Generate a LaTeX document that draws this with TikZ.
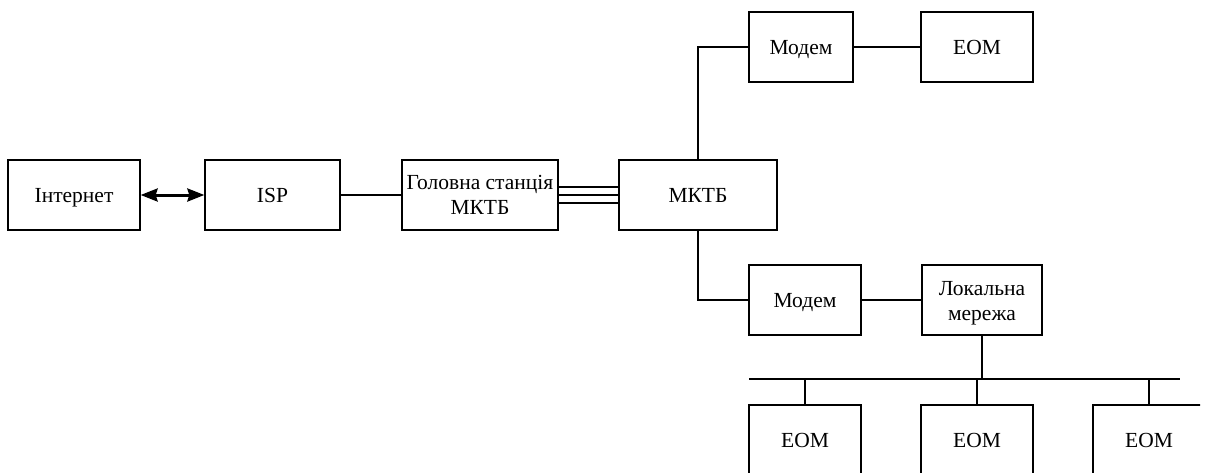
\documentclass[tikz,border=0pt]{standalone}
\usepackage{fontspec}
\setmainfont{Liberation Serif}
\usetikzlibrary{arrows.meta}
\begin{document}
\begin{tikzpicture}[x=1pt,y=-1pt,
  txt/.style={inner sep=0pt,align=center,font=\fontsize{21.5}{25}\selectfont},
  box/.style={txt,draw,line width=1.3pt,minimum height=70pt},
  one/.style={text height=14.2pt,text depth=0pt},
  wire/.style={line width=1.3pt},
  tip/.style={Stealth[length=17pt,width=13pt,inset=0pt]}]
\useasboundingbox (0,0) rectangle (1211,472);
\node[box,one,minimum width=132pt] (inet) at (74,195) {Інтернет};
\node[box,one,minimum width=135pt] (isp) at (272.5,195) {ISP};
\node[box,minimum width=156pt] (head) at (480,195) {Головна станція\\МКТБ};
\node[box,one,minimum width=158pt] (mktb) at (698,195) {МКТБ};
\node[box,one,minimum width=104pt] (modemA) at (801,47) {Модем};
\node[box,one,minimum width=112pt] (eomA) at (977,47) {ЕОМ};
\node[box,one,minimum width=112pt] (modemB) at (805,300) {Модем};
\node[box,minimum width=120pt,label={[txt,yshift=-3pt]center:Локальна\\мережа}] (lan) at (982,300) {};
\coordinate (busL) at (749,379);
\coordinate (busR) at (1180,379);
\begin{scope}
\clip (0,0) rectangle (1200,472);
\node[box,one,minimum width=112pt] (eomB) at (805,440) {ЕОМ};
\node[box,one,minimum width=112pt] (eomC) at (977,440) {ЕОМ};
\node[box,one,minimum width=112pt] (eomD) at (1149,440) {ЕОМ};
\end{scope}
\draw[line width=3pt,{Stealth[length=17pt,width=13pt,inset=2pt]}-{Stealth[length=17pt,width=13pt,inset=2pt]}] (inet.east) -- (isp.west);
\draw[wire] (isp.east) -- (head.west);
\draw[wire] ([yshift=8pt]head.east) -- ([yshift=8pt]mktb.west);
\draw[wire] (head.east) -- (mktb.west);
\draw[wire] ([yshift=-8pt]head.east) -- ([yshift=-8pt]mktb.west);
\draw[wire] (mktb.north) |- (modemA.west);
\draw[wire] (modemA.east) -- (eomA.west);
\draw[wire] (mktb.south) |- (modemB.west);
\draw[wire] (modemB.east) -- (lan.west);
\draw[wire] (busL) -- (busR);
\draw[wire] (lan.south) -- (lan.south |- busL);
\draw[wire] (eomB.north) -- (eomB.north |- busL);
\draw[wire] (eomC.north) -- (eomC.north |- busL);
\draw[wire] (eomD.north) -- (eomD.north |- busL);
\end{tikzpicture}
\end{document}
